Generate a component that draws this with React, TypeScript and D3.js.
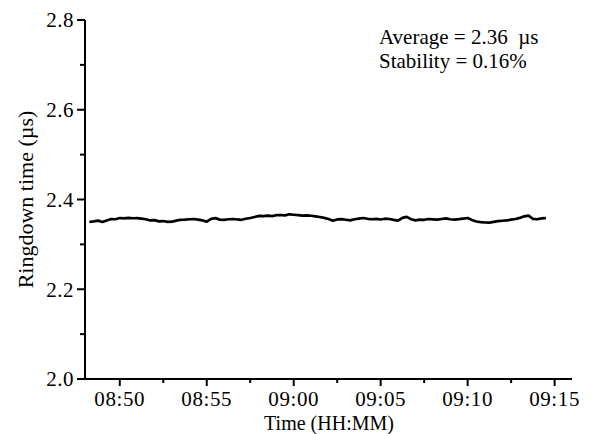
import React, { useEffect, useRef } from 'react';
import * as d3 from 'd3';

// x axis range and tick labels (HH:MM)
const timeDomain = ['08:48', '09:16'];
const majorTicks = ['08:50', '08:55', '09:00', '09:05', '09:10', '09:15'];
const minorTicks = ['08:52:30', '08:57:30', '09:02:30', '09:07:30', '09:12:30'];

// y axis
const yDomain = [2.0, 2.8];
const yMajor = [2.0, 2.2, 2.4, 2.6, 2.8];
const yMinor = [2.1, 2.3, 2.5, 2.7];

// ringdown samples, one every 15 s starting at 08:48:15
const sampleStart = '08:48:15';
const sampleStepSec = 15;
const ringdown = [
  2.3498, 2.3512, 2.353, 2.35, 2.3532, 2.3565, 2.356, 2.3588, 2.3578, 2.359,
  2.3582, 2.3586, 2.3572, 2.356, 2.3533, 2.354, 2.3512, 2.352, 2.35, 2.3505,
  2.3528, 2.3548, 2.3552, 2.356, 2.3566, 2.355, 2.3535, 2.3505, 2.357, 2.3585,
  2.3552, 2.3546, 2.356, 2.3565, 2.3555, 2.3548, 2.357, 2.3588, 2.361, 2.3636,
  2.3628, 2.364, 2.363, 2.365, 2.3655, 2.3645, 2.367, 2.366, 2.3652, 2.364,
  2.3648, 2.3638, 2.3625, 2.361, 2.359, 2.3565, 2.3526, 2.3555, 2.3562, 2.3548,
  2.3535, 2.356, 2.3575, 2.3588, 2.357, 2.356, 2.3568, 2.3555, 2.3572, 2.3565,
  2.3545, 2.3528, 2.359, 2.3612, 2.356, 2.3534, 2.3552, 2.3548, 2.3566, 2.3558,
  2.355, 2.3565, 2.3578, 2.356, 2.3552, 2.3562, 2.3575, 2.3588, 2.3545, 2.351,
  2.3495, 2.3488, 2.3484, 2.35, 2.3518, 2.3526, 2.3533, 2.355, 2.3565, 2.359,
  2.3625, 2.364, 2.3568, 2.356, 2.3578, 2.3585,
];

const annotations = ['Average = 2.36\u2002\u00b5s', 'Stability = 0.16%'];

const toSec = (s: string) => {
  const p = s.split(':').map(Number);
  return p[0] * 3600 + p[1] * 60 + (p[2] || 0);
};

const App = () => {
  const chartRef = useRef<HTMLDivElement>(null);

  useEffect(() => {
    const width = 591;
    const height = 434;
    const font = 'Liberation Serif, DejaVu Serif, Times New Roman, Times, serif';

    d3.select(chartRef.current).select('svg').remove();

    const svg = d3
      .select(chartRef.current)
      .append('svg')
      .attr('width', width)
      .attr('height', height)
      .style('position', 'absolute')
      .style('left', '0px')
      .style('top', '0px')
      .style('background', '#fff')
      .style('font-family', font);

    const x = d3
      .scaleLinear()
      .domain(timeDomain.map(toSec))
      .range([85, 572]);
    const y = d3.scaleLinear().domain(yDomain).range([379, 20]);

    const t0 = toSec(sampleStart);
    const points: [number, number][] = ringdown.map((v, i) => [t0 + i * sampleStepSec, v]);

    // Axes lines
    svg
      .append('line')
      .attr('x1', x.range()[0])
      .attr('x2', x.range()[0])
      .attr('y1', y(yDomain[1]))
      .attr('y2', y(yDomain[0]) + 1)
      .attr('stroke', '#000')
      .attr('stroke-width', 2);
    svg
      .append('line')
      .attr('x1', x.range()[0] - 1)
      .attr('x2', x.range()[1])
      .attr('y1', y(yDomain[0]))
      .attr('y2', y(yDomain[0]))
      .attr('stroke', '#000')
      .attr('stroke-width', 2);

    // y ticks
    const x0 = x.range()[0];
    svg
      .selectAll('.ymaj')
      .data(yMajor)
      .enter()
      .append('line')
      .attr('x1', x0 - 8)
      .attr('x2', x0)
      .attr('y1', (d) => y(d))
      .attr('y2', (d) => y(d))
      .attr('stroke', '#000')
      .attr('stroke-width', 2);
    svg
      .selectAll('.ymin')
      .data(yMinor)
      .enter()
      .append('line')
      .attr('x1', x0 - 5)
      .attr('x2', x0)
      .attr('y1', (d) => y(d))
      .attr('y2', (d) => y(d))
      .attr('stroke', '#000')
      .attr('stroke-width', 2);
    svg
      .selectAll('.ylab')
      .data(yMajor)
      .enter()
      .append('text')
      .attr('x', 74)
      .attr('y', (d) => y(d))
      .attr('dy', '0.35em')
      .attr('text-anchor', 'end')
      .attr('font-size', 21)
      .attr('letter-spacing', 0.5)
      .text((d) => d.toFixed(1));

    // x ticks
    const y0 = y.range()[0];
    svg
      .selectAll('.xmaj')
      .data(majorTicks)
      .enter()
      .append('line')
      .attr('x1', (d) => x(toSec(d)))
      .attr('x2', (d) => x(toSec(d)))
      .attr('y1', y0)
      .attr('y2', y0 + 7)
      .attr('stroke', '#000')
      .attr('stroke-width', 2);
    svg
      .selectAll('.xmin')
      .data(minorTicks)
      .enter()
      .append('line')
      .attr('x1', (d) => x(toSec(d)))
      .attr('x2', (d) => x(toSec(d)))
      .attr('y1', y0)
      .attr('y2', y0 + 4)
      .attr('stroke', '#000')
      .attr('stroke-width', 2);
    svg
      .selectAll('.xlab')
      .data(majorTicks)
      .enter()
      .append('text')
      .attr('x', (d) => x(toSec(d)))
      .attr('y', 406)
      .attr('text-anchor', 'middle')
      .attr('font-size', 21)
      .attr('letter-spacing', 0.6)
      .text((d) => d);

    // Axis titles
    svg
      .append('text')
      .attr('x', 329)
      .attr('y', 430)
      .attr('text-anchor', 'middle')
      .attr('font-size', 20)
      .text('Time (HH:MM)');
    svg
      .append('text')
      .attr('transform', `translate(33, ${(y.range()[0] + y.range()[1]) / 2}) rotate(-90)`)
      .attr('text-anchor', 'middle')
      .attr('font-size', 22)
      .text('Ringdown time (\u00b5s)');

    // Data line
    const line = d3
      .line<[number, number]>()
      .x((d) => x(d[0]))
      .y((d) => y(d[1]));
    svg
      .append('path')
      .datum(points)
      .attr('d', line)
      .attr('fill', 'none')
      .attr('stroke', '#000')
      .attr('stroke-width', 2.7)
      .attr('stroke-linejoin', 'round');

    // Annotation
    svg
      .selectAll('.note')
      .data(annotations)
      .enter()
      .append('text')
      .attr('x', 379)
      .attr('y', (d, i) => 44 + i * 24)
      .attr('font-size', 21)
      .text((d) => d);
  }, []);

  return <div ref={chartRef}></div>;
};

export default App;
